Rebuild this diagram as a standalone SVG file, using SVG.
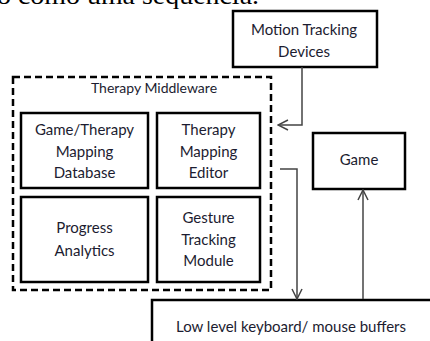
<svg xmlns="http://www.w3.org/2000/svg" width="430" height="341" viewBox="0 0 430 341">
<defs>
<style>
.box{fill:#fff;stroke:#000;stroke-width:2.5}
.dash{fill:none;stroke:#000;stroke-width:2.5;stroke-dasharray:7 4}
.conn{fill:none;stroke:#444;stroke-width:1.5}
.lbl{font-family:Lato,"Liberation Sans",sans-serif;font-size:15px;fill:#1c1c30;text-anchor:middle}
.small{font-size:14px}
.body{font-family:"Liberation Serif",serif;font-size:26px;fill:#000}
</style>
<marker id="arr" viewBox="0 0 12 12" refX="11" refY="6" markerWidth="12" markerHeight="12" markerUnits="userSpaceOnUse" orient="auto">
<path d="M1,1 L11,6 L1,11" fill="none" stroke="#444" stroke-width="1.5"/>
</marker>
</defs>
<rect width="430" height="341" fill="#fff"/>
<text class="body" x="-3" y="4" textLength="262" lengthAdjust="spacingAndGlyphs">o como uma sequência.</text>

<g id="middleware">
<rect class="dash" x="13" y="77" width="258" height="213"/>
<text class="lbl small" x="154" y="93">Therapy Middleware</text>
</g>
<g id="motion">
<rect class="box" x="233" y="11" width="144" height="56"/>
<text class="lbl" x="304" y="35">Motion Tracking</text>
<text class="lbl" x="304" y="57">Devices</text>
</g>
<g id="gamedb">
<rect class="box" x="21" y="113" width="127" height="75"/>
<text class="lbl" x="84.5" y="135">Game/Therapy</text>
<text class="lbl" x="84.5" y="157">Mapping</text>
<text class="lbl" x="84.5" y="178">Database</text>
</g>
<g id="editor">
<rect class="box" x="157" y="113" width="103" height="75"/>
<text class="lbl" x="208.5" y="135">Therapy</text>
<text class="lbl" x="208.5" y="157">Mapping</text>
<text class="lbl" x="208.5" y="178">Editor</text>
</g>
<g id="progress">
<rect class="box" x="21" y="197" width="127" height="85"/>
<text class="lbl" x="84.5" y="233">Progress</text>
<text class="lbl" x="84.5" y="256">Analytics</text>
</g>
<g id="gesture">
<rect class="box" x="157" y="197" width="103" height="85"/>
<text class="lbl" x="208.5" y="223">Gesture</text>
<text class="lbl" x="208.5" y="245">Tracking</text>
<text class="lbl" x="208.5" y="266">Module</text>
</g>
<g id="game">
<rect class="box" x="313" y="133" width="92" height="56"/>
<text class="lbl" x="359" y="165">Game</text>
</g>
<g id="buffers">
<rect class="box" x="152" y="300" width="290" height="60"/>
<text class="lbl" x="291" y="332">Low level keyboard/ mouse buffers</text>
</g>
<g id="connectors">
<path class="conn" d="M302,67 V125 H278" marker-end="url(#arr)"/>
<path class="conn" d="M280,169 H297 V299" marker-end="url(#arr)"/>
<path class="conn" d="M363,299 V190" marker-end="url(#arr)"/>
</g>
</svg>
